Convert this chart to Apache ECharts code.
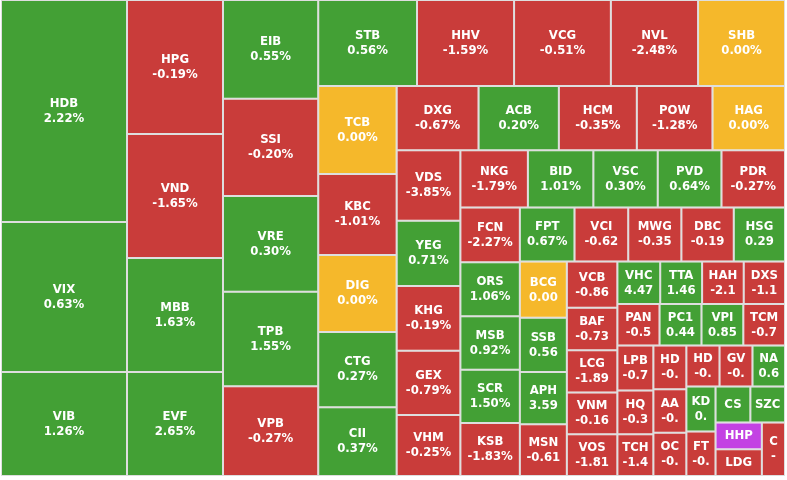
<!DOCTYPE html>
<html>
<head>
<meta charset="utf-8">
<script src="https://cdn.jsdelivr.net/npm/echarts@6/dist/echarts.min.js"></script>
<style>
html,body{margin:0;padding:0;background:#ffffff;}
#chart{width:787px;height:480px;}
</style>
</head>
<body>
<div id="chart"></div>
<script>
// Ticker symbols as displayed
const tickers = ['HDB','VIX','VIB','HPG','VND','MBB','EVF','EIB','SSI','VRE','TPB','VPB',
  'STB','HHV','VCG','NVL','SHB','TCB','KBC','DIG','CTG','CII','DXG','ACB','HCM','POW','HAG',
  'VDS','YEG','KHG','GEX','VHM','NKG','BID','VSC','PVD','PDR','FCN','ORS','MSB','SCR','KSB',
  'FPT','VCI','MWG','DBC','HSG','BCG','SSB','APH','MSN','VCB','BAF','LCG','VNM','VOS',
  'VHC','TTA','HAH','DXS','PAN','PC1','VPI','TCM','LPB','HQ','TCH','HD','AA','OC',
  'HD','GV','NA','KD','FT','CS','SZC','HHP','LDG','C'];
// Tile weights (estimated from tile areas)
const weights = [27972,18900,13104,12864,11904,10944,9984,9400,9250,9120,9000,8550,
  8500,8350,8330,7500,7480,6900,6350,6050,5900,5400,5250,5150,5000,4850,4650,
  4500,4150,4130,4080,3890,3880,3760,3700,3660,3650,3250,3220,3180,3170,3150,
  2950,2900,2870,2830,2765,2640,2550,2460,2427,2330,2150,2130,2110,2107,
  1820,1780,1770,1753,1750,1740,1735,1730,1620,1570,1505,1440,1435,1428,
  1360,1350,1333,1310,1300,1252,1246,1241,1238,1237];
// Price change text as displayed
const changes = ['2.22%','0.63%','1.26%','-0.19%','-1.65%','1.63%','2.65%','0.55%','-0.20%','0.30%','1.55%','-0.27%',
  '0.56%','-1.59%','-0.51%','-2.48%','0.00%','0.00%','-1.01%','0.00%','0.27%','0.37%','-0.67%','0.20%','-0.35%','-1.28%','0.00%',
  '-3.85%','0.71%','-0.19%','-0.79%','-0.25%','-1.79%','1.01%','0.30%','0.64%','-0.27%','-2.27%','1.06%','0.92%','1.50%','-1.83%',
  '0.67%','-0.62','-0.35','-0.19','0.29','0.00','0.56','3.59','-0.61','-0.86','-0.73','-1.89','-0.16','-1.81',
  '4.47','1.46','-2.1','-1.1','-0.5','0.44','0.85','-0.7','-0.7','-0.3','-1.4','-0.','-0.','-0.',
  '-0.','-0.','0.6','0.','-0.','','','','','-'];
// Direction of move: up / down / ref (unchanged) / ceil (ceiling)
const trends = ['up','up','up','down','down','up','up','up','down','up','up','down',
  'up','down','down','down','ref','ref','down','ref','up','up','down','up','down','down','ref',
  'down','up','down','down','down','down','up','up','up','down','down','up','up','up','down',
  'up','down','down','down','up','ref','up','up','down','down','down','down','down','down',
  'up','up','down','down','down','up','up','down','down','down','down','down','down','down',
  'down','down','up','up','down','up','up','ceil','down','down'];

const trendColor = {up:'#43a035', down:'#c93c3a', ref:'#f5b82b', ceil:'#c342e3'};

const data = tickers.map((t, i) => ({
  id: 'n' + i,
  name: t,
  value: weights[i],
  change: changes[i],
  itemStyle: {color: trendColor[trends[i]]}
}));

const chart = echarts.init(document.getElementById('chart'), null, {renderer: 'canvas'});
chart.setOption({
  animation: false,
  series: [{
    type: 'treemap',
    left: 1, top: 0, width: 784, height: 476,
    squareRatio: 0.96,
    sort: 'desc',
    roam: false,
    nodeClick: false,
    breadcrumb: {show: false},
    visibleMin: 0,
    label: {
      show: true,
      position: 'inside',
      align: 'center',
      verticalAlign: 'middle',
      color: '#ffffff',
      fontWeight: 'bold',
      fontSize: 13,
      lineHeight: 15,
      fontFamily: "'DejaVu Sans Condensed', 'DejaVu Sans', sans-serif",
      overflow: 'none',
      padding: 0,
      formatter: p => p.data.change ? p.name + '\n' + p.data.change : p.name
    },
    levels: [
      {itemStyle: {borderWidth: 1, gapWidth: 2, borderColor: '#dedede'}},
      {itemStyle: {borderWidth: 0, gapWidth: 0}}
    ],
    data: data
  }]
});
</script>
</body>
</html>
